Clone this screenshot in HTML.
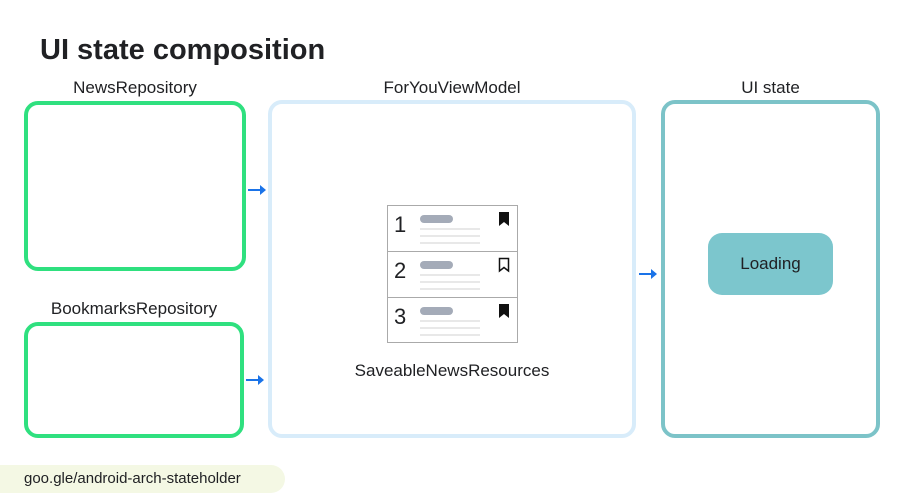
<!DOCTYPE html><html><head><style>
body{margin:0;width:900px;height:504px;background:#fff;position:relative;overflow:hidden;font-family:"Liberation Sans",Arial,sans-serif;color:#202124}
.a{position:absolute}
.box{position:absolute;box-sizing:border-box;border-radius:14px}
.lbl{position:absolute;font-size:17px;text-align:center}
.row{position:absolute;left:0;width:129px;height:46px;border-top:1px solid #aaa;box-sizing:border-box}
.n{position:absolute;left:6px;top:6px;font-size:22px}
.pill{position:absolute;left:32px;top:9px;width:33px;height:8px;border-radius:4px;background:#a4abb8}
.ln{position:absolute;left:32px;width:60px;height:2px;background:#e8e8e8}
.arr{position:absolute;height:2px;background:#1a73e8}
.arr:after{content:"";position:absolute;right:-2px;top:-4px;border-left:6px solid #1a73e8;border-top:5px solid transparent;border-bottom:5px solid transparent}
</style></head><body>
<div class="a" style="left:40px;top:34px;font-size:29px;font-weight:bold">UI state composition</div>
<div class="lbl" style="left:24px;width:222px;top:78px">NewsRepository</div>
<div class="lbl" style="left:268px;width:368px;top:78px">ForYouViewModel</div>
<div class="lbl" style="left:661px;width:219px;top:78px">UI state</div>
<div class="lbl" style="left:24px;width:220px;top:299px">BookmarksRepository</div>
<div class="box" style="left:24px;top:101px;width:222px;height:170px;border:4px solid #2fe07f"></div>
<div class="box" style="left:24px;top:322px;width:220px;height:116px;border:4px solid #2fe07f"></div>
<div class="box" style="left:268px;top:100px;width:368px;height:338px;border:4px solid #d8ecfa"></div>
<div class="box" style="left:661px;top:100px;width:219px;height:338px;border:4px solid #7cc3c8"></div>
<div class="box" style="left:708px;top:233px;width:125px;height:62px;background:#7cc6cd;border-radius:14px;font-size:17px;text-align:center;line-height:62px">Loading</div>
<div class="arr" style="left:248px;top:189px;width:16px"></div>
<div class="arr" style="left:246px;top:379px;width:16px"></div>
<div class="arr" style="left:639px;top:273px;width:16px"></div>
<div class="a" style="left:387px;top:205px;width:131px;height:138px;border:1px solid #aaa;border-top:none;box-sizing:border-box">
 <div class="row" style="top:0"><span class="n">1</span><div class="pill"></div><div class="ln" style="top:22px"></div><div class="ln" style="top:29px"></div><div class="ln" style="top:36px"></div>
 <svg class="a" style="left:110px;top:5px" width="12" height="16"><path d="M1 1H11V15L6 11L1 15Z" fill="#111"/></svg></div>
 <div class="row" style="top:46px"><span class="n">2</span><div class="pill"></div><div class="ln" style="top:22px"></div><div class="ln" style="top:29px"></div><div class="ln" style="top:36px"></div>
 <svg class="a" style="left:110px;top:5px" width="12" height="16"><path d="M1.5 1.5H10.5V14L6 10.5L1.5 14Z" fill="none" stroke="#111" stroke-width="1.5"/></svg></div>
 <div class="row" style="top:92px"><span class="n">3</span><div class="pill"></div><div class="ln" style="top:22px"></div><div class="ln" style="top:29px"></div><div class="ln" style="top:36px"></div>
 <svg class="a" style="left:110px;top:5px" width="12" height="16"><path d="M1 1H11V15L6 11L1 15Z" fill="#111"/></svg></div>
</div>
<div class="lbl" style="left:268px;width:368px;top:361px">SaveableNewsResources</div>
<div class="a" style="left:-14px;top:465px;width:299px;height:28px;border-radius:14px;background:#f4f8e4"></div>
<div class="a" style="left:24px;top:470px;font-size:15px">goo.gle/android-arch-stateholder</div>
</body></html>
